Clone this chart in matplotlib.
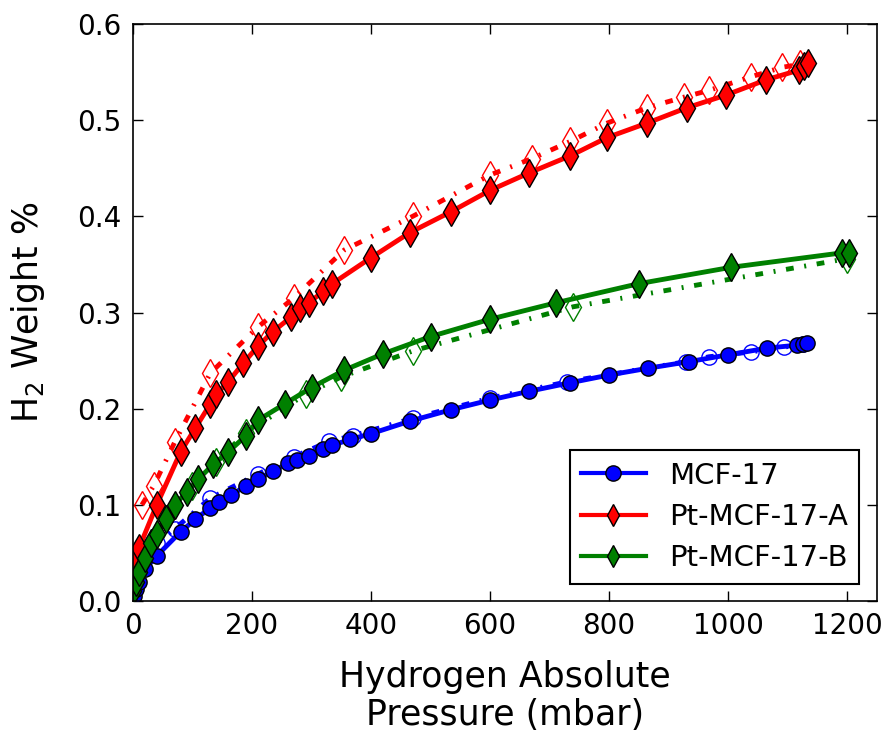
import matplotlib

matplotlib.use("Agg")
import matplotlib.pyplot as plt

# MCF-17 adsorption (filled) and desorption (open)
mcf_ads_p = [2, 5, 10, 20, 40, 80, 105, 130, 145, 165, 190, 210, 235, 260, 275, 295,
             320, 335, 365, 400, 465, 535, 600, 665, 735, 800, 865, 935, 1000, 1066, 1115, 1125, 1133]
mcf_ads_w = [0.005, 0.012, 0.02, 0.033, 0.047, 0.072, 0.085, 0.097, 0.103, 0.110, 0.120, 0.127,
             0.135, 0.143, 0.147, 0.151, 0.158, 0.162, 0.168, 0.174, 0.187, 0.199, 0.209, 0.218,
             0.227, 0.235, 0.242, 0.249, 0.256, 0.263, 0.266, 0.267, 0.268]
mcf_des_p = [10, 40, 70, 130, 210, 270, 330, 370, 470, 600, 730, 930, 968, 1038, 1094, 1125]
mcf_des_w = [0.03, 0.06, 0.075, 0.107, 0.132, 0.150, 0.166, 0.172, 0.190, 0.211, 0.228, 0.249,
             0.254, 0.259, 0.264, 0.267]

# Pt-MCF-17-A
pta_ads_p = [0, 10, 40, 80, 105, 130, 140, 160, 185, 210, 235, 265, 280, 295, 320, 335, 400,
             465, 535, 600, 665, 735, 797, 864, 931, 996, 1064, 1119, 1127, 1135]
pta_ads_w = [0.04, 0.055, 0.100, 0.155, 0.180, 0.205, 0.215, 0.228, 0.247, 0.265, 0.280, 0.295,
             0.305, 0.310, 0.322, 0.330, 0.357, 0.383, 0.405, 0.427, 0.445, 0.463, 0.482, 0.497,
             0.513, 0.526, 0.542, 0.552, 0.556, 0.559]
pta_des_p = [15, 35, 70, 130, 210, 270, 355, 470, 600, 670, 735, 797, 864, 926, 968, 1038, 1091, 1120]
pta_des_w = [0.10, 0.12, 0.165, 0.237, 0.285, 0.315, 0.365, 0.400, 0.443, 0.460, 0.478, 0.497,
             0.513, 0.524, 0.531, 0.545, 0.555, 0.558]

# Pt-MCF-17-B
ptb_ads_p = [0, 5, 10, 20, 30, 40, 55, 70, 90, 110, 135, 160, 190, 210, 255, 300, 355, 420,
             500, 600, 710, 850, 1005, 1191, 1203]
ptb_ads_w = [0.01, 0.02, 0.03, 0.045, 0.06, 0.07, 0.085, 0.10, 0.113, 0.127, 0.142, 0.155,
             0.172, 0.188, 0.205, 0.222, 0.240, 0.257, 0.275, 0.293, 0.310, 0.330, 0.347, 0.362, 0.362]
ptb_des_p = [10, 50, 100, 140, 190, 290, 350, 470, 740, 1200]
ptb_des_w = [0.03, 0.08, 0.12, 0.145, 0.175, 0.215, 0.233, 0.260, 0.306, 0.356]

plt.rcParams["font.family"] = "DejaVu Sans"
plt.rcParams["xtick.direction"] = "in"
plt.rcParams["ytick.direction"] = "in"
plt.rcParams["xtick.top"] = True
plt.rcParams["ytick.right"] = True
plt.rcParams["xtick.major.size"] = 7
plt.rcParams["ytick.major.size"] = 7

fig = plt.figure(figsize=(8.83, 7.36), dpi=100)
ax = fig.add_axes([0.1506, 0.1834, 0.8425, 0.7840])

series = [
    (mcf_ads_p, mcf_ads_w, mcf_des_p, mcf_des_w, "blue", "o", 11, "MCF-17"),
    (pta_ads_p, pta_ads_w, pta_des_p, pta_des_w, "red", "d", 14, "Pt-MCF-17-A"),
    (ptb_ads_p, ptb_ads_w, ptb_des_p, ptb_des_w, "green", "d", 14, "Pt-MCF-17-B"),
]

for ads_p, ads_w, des_p, des_w, color, marker, ms, label in series:
    ax.plot(des_p, des_w, linestyle=(0, (1.6, 2.2, 0.4, 2.2)), color=color, lw=3.5,
            marker=marker, ms=ms, mfc="none", mec=color, mew=1.0)
    ax.plot(ads_p, ads_w, linestyle="-", color=color, lw=3.5, marker=marker, ms=ms,
            mfc=color, mec="black", mew=1.0, label=label)

ax.set_xlim(0, 1250)
ax.set_ylim(0, 0.6)
ax.set_xticks([0, 200, 400, 600, 800, 1000, 1200])
ax.set_yticks([0.0, 0.1, 0.2, 0.3, 0.4, 0.5, 0.6])
ax.tick_params(labelsize=20, width=1, pad=8)
for s in ax.spines.values():
    s.set_linewidth(1.2)

ax.set_xlabel("Hydrogen Absolute\nPressure (mbar)", fontsize=25, linespacing=1.15, labelpad=14)
ax.set_ylabel("H$_2$ Weight %", fontsize=25, labelpad=22)

leg = ax.legend(loc="lower right", fontsize=21, numpoints=1, fancybox=False,
                framealpha=1, edgecolor="black", handlelength=2.2, borderaxespad=0.6,
                labelspacing=0.45)
for h in leg.legend_handles:
    h.set_linewidth(3)
    h.set_markersize(11)
leg.get_frame().set_linewidth(1.5)

fig.savefig("out.png", dpi=100)
